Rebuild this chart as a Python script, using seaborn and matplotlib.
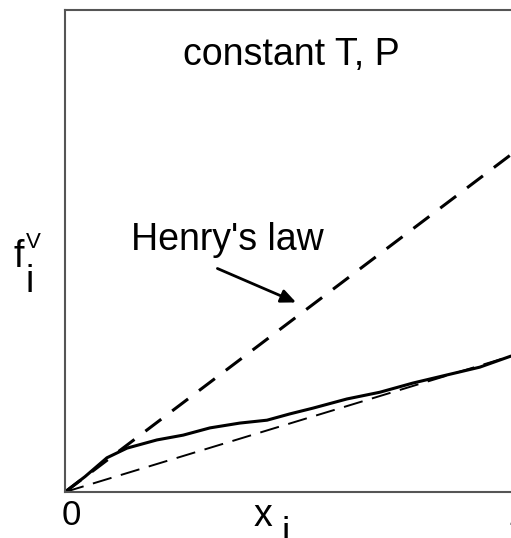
import matplotlib
matplotlib.use("Agg")
import matplotlib.pyplot as plt
from matplotlib.transforms import ScaledTranslation
import numpy as np
import pandas as pd
import seaborn as sns

# Mole fraction of component i and its vapour fugacity (real mixture)
x_real = [0.0, 0.045, 0.094, 0.139, 0.206, 0.265, 0.325, 0.392, 0.453,
          0.504, 0.556, 0.632, 0.706, 0.780, 0.857, 0.930, 1.0]
f_real = [0.0, 0.032, 0.071, 0.091, 0.108, 0.118, 0.133, 0.143, 0.149,
          0.162, 0.174, 0.193, 0.207, 0.226, 0.243, 0.259, 0.282]

# Straight reference lines through the origin
x_ref = [0.0, 1.0]
f_henry = [0.0, 0.70]      # Henry's law (tangent at x_i -> 0)
f_lewis = [0.0, 0.282]     # ideal-solution line to the pure-component fugacity

x_tick_pos = [0.0, 1.0]
x_tick_labels = ["0", "1"]

sns.set_style("white")
plt.rcParams["font.family"] = ["Liberation Sans", "DejaVu Sans"]
plt.rcParams["text.color"] = "black"
plt.rcParams["xtick.color"] = "black"

fig = plt.figure(figsize=(5.11, 5.38), dpi=100)
ax = fig.add_axes([65 / 511, 46 / 538, 446 / 511, 482 / 538])

real = pd.DataFrame({"x": x_real, "f": f_real})
henry = pd.DataFrame({"x": x_ref, "f": f_henry})
lewis = pd.DataFrame({"x": x_ref, "f": f_lewis})

sns.lineplot(data=henry, x="x", y="f", ax=ax, color="black", lw=2.2,
             linestyle=(0, (6.5, 4.5)), sort=False)
sns.lineplot(data=lewis, x="x", y="f", ax=ax, color="black", lw=1.4,
             linestyle=(0, (10, 5)), sort=False)
sns.lineplot(data=real, x="x", y="f", ax=ax, color="black", lw=2.2, sort=False,
             solid_joinstyle="round", solid_capstyle="round")

ax.set_xlim(0, 1)
ax.set_ylim(0, 1)
ax.set_xlabel("")
ax.set_ylabel("")
ax.set_yticks([])
ax.set_xticks(x_tick_pos)
ax.set_xticklabels(x_tick_labels, fontsize=25, color="black")
ax.tick_params(axis="x", length=0, pad=5)
for lab in ax.get_xticklabels():
    lab.set_transform(lab.get_transform() + ScaledTranslation(6 / 100, 0, fig.dpi_scale_trans))

for side in ("left", "bottom", "top"):
    ax.spines[side].set_color("#555555")
    ax.spines[side].set_linewidth(1.5)
ax.spines["right"].set_visible(False)

ax.text(0.507, 0.886, "constant T, P", ha="center", va="baseline", fontsize=27)
ax.text(0.365, 0.502, "Henry's law", ha="center", va="baseline", fontsize=27)
ax.annotate("", xy=(0.524, 0.391), xytext=(0.336, 0.466),
            arrowprops=dict(arrowstyle="-|>,head_length=0.9,head_width=0.4",
                            color="black", lw=2))

# y-axis label: f_i^V
fig.text(14 / 511, (538 - 267) / 538, "f", fontsize=27, ha="left", va="baseline")
fig.text(26 / 511, (538 - 248) / 538, "V", fontsize=16, ha="left", va="baseline")
fig.text(26 / 511, (538 - 292) / 538, "i", fontsize=27, ha="left", va="baseline")

# x-axis label: x_i
fig.text(254 / 511, (538 - 526) / 538, "x", fontsize=27, ha="left", va="baseline")
fig.text(282 / 511, (538 - 544) / 538, "i", fontsize=27, ha="left", va="baseline")

fig.savefig("out.png", dpi=100)
